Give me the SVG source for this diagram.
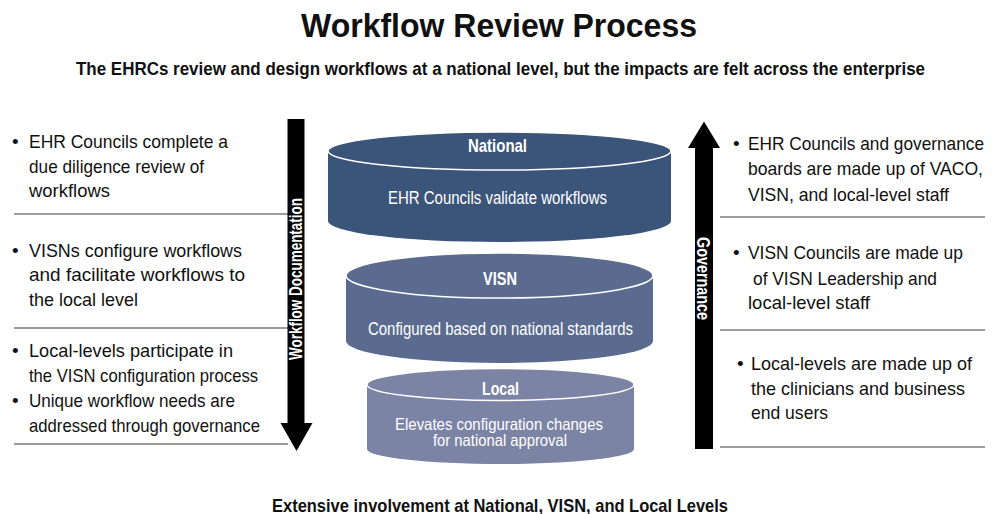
<svg xmlns="http://www.w3.org/2000/svg" width="1002" height="514" viewBox="0 0 1002 514">
<style>
.t{font-family:"Liberation Sans",Arial,sans-serif;fill:#111}
.b{font-weight:bold}
.body{font-size:19px}
.w{fill:#fff}
.rule{stroke:#3a3a3a;stroke-width:1.2;fill:none}
.rim{stroke:#fff;stroke-width:1.5}
</style>
<rect width="1002" height="514" fill="#fff"/>
<text class="t b" x="499" y="36.5" font-size="33" text-anchor="middle" textLength="396" lengthAdjust="spacingAndGlyphs">Workflow Review Process</text>
<text class="t b" x="500.5" y="75" font-size="18.5" text-anchor="middle" textLength="849" lengthAdjust="spacingAndGlyphs">The EHRCs review and design workflows at a national level, but the impacts are felt across the enterprise</text>
<text class="t b" x="500" y="512" font-size="18.5" text-anchor="middle" textLength="456" lengthAdjust="spacingAndGlyphs">Extensive involvement at National, VISN, and Local Levels</text>

<g id="left-notes">
<line class="rule" x1="14" y1="214" x2="288" y2="214"/>
<line class="rule" x1="14" y1="328" x2="288" y2="328"/>
<line class="rule" x1="14" y1="444" x2="288" y2="444"/>
<g class="t body">
<text x="12" y="148">•</text>
<text x="29" y="148" textLength="199" lengthAdjust="spacingAndGlyphs">EHR Councils complete a</text>
<text x="29" y="172.7" textLength="175" lengthAdjust="spacingAndGlyphs">due diligence review of</text>
<text x="29" y="197.3" textLength="81" lengthAdjust="spacingAndGlyphs">workflows</text>
<text x="12" y="256.5">•</text>
<text x="29" y="256.5" textLength="213" lengthAdjust="spacingAndGlyphs">VISNs configure workflows</text>
<text x="29" y="281.3" textLength="216" lengthAdjust="spacingAndGlyphs">and facilitate workflows to</text>
<text x="29" y="305.5" textLength="109" lengthAdjust="spacingAndGlyphs">the local level</text>
<text x="12" y="357">•</text>
<text x="29" y="357" textLength="204" lengthAdjust="spacingAndGlyphs">Local-levels participate in</text>
<text x="29" y="382" textLength="229" lengthAdjust="spacingAndGlyphs">the VISN configuration process</text>
<text x="12" y="407">•</text>
<text x="29" y="407" textLength="206" lengthAdjust="spacingAndGlyphs">Unique workflow needs are</text>
<text x="29" y="431.5" textLength="231" lengthAdjust="spacingAndGlyphs">addressed through governance</text>
</g>
</g>

<g id="right-notes">
<line class="rule" x1="720" y1="217" x2="985" y2="217"/>
<line class="rule" x1="720" y1="330" x2="985" y2="330"/>
<line class="rule" x1="720" y1="447" x2="985" y2="447"/>
<g class="t body">
<text x="733" y="149.5">•</text>
<text x="748" y="149.5" textLength="236" lengthAdjust="spacingAndGlyphs">EHR Councils and governance</text>
<text x="748" y="175" textLength="235" lengthAdjust="spacingAndGlyphs">boards are made up of VACO,</text>
<text x="748" y="200.5" textLength="201" lengthAdjust="spacingAndGlyphs">VISN, and local-level staff</text>
<text x="733" y="259">•</text>
<text x="748" y="259" textLength="215" lengthAdjust="spacingAndGlyphs">VISN Councils are made up</text>
<text x="753" y="284.5" textLength="184" lengthAdjust="spacingAndGlyphs">of VISN Leadership and</text>
<text x="748" y="309" textLength="122" lengthAdjust="spacingAndGlyphs">local-level staff</text>
<text x="737" y="370">•</text>
<text x="751" y="370" textLength="221" lengthAdjust="spacingAndGlyphs">Local-levels are made up of</text>
<text x="751" y="394.5" textLength="214" lengthAdjust="spacingAndGlyphs">the clinicians and business</text>
<text x="751" y="418.5" textLength="77" lengthAdjust="spacingAndGlyphs">end users</text>
</g>
</g>

<g id="connectors">
<g id="workflow-documentation-arrow">
<path d="M287.5,119 H304.5 V423 H312.5 L296.5,451 L280.5,423 H287.5 Z" fill="#000"/>
<text class="t b w" font-size="18" text-anchor="middle" transform="translate(302,279) rotate(-90)" textLength="162" lengthAdjust="spacingAndGlyphs">Workflow Documentation</text>
</g>
<g id="governance-arrow">
<path d="M695,449 V148 H688 L704,121.5 L720,148 H713 V449 Z" fill="#000"/>
<text class="t b w" font-size="18" text-anchor="middle" transform="translate(697,278.5) rotate(90)" textLength="83" lengthAdjust="spacingAndGlyphs">Governance</text>
</g>
</g>

<g id="national">
<path d="M328,151 V221 A171.5,21 0 0 0 671,221 V151 Z" fill="#3b5479"/>
<ellipse class="rim" cx="499.5" cy="151" rx="171.5" ry="19" fill="#3b5479"/>
<text class="t b w" x="497.5" y="151.5" font-size="19" text-anchor="middle" textLength="59" lengthAdjust="spacingAndGlyphs">National</text>
<text class="t w" x="497.5" y="204" font-size="17.5" text-anchor="middle" textLength="219" lengthAdjust="spacingAndGlyphs">EHR Councils validate workflows</text>
</g>

<g id="visn">
<path d="M346,275.5 V341 A153.5,22 0 0 0 653,341 V275.5 Z" fill="#5b6b90"/>
<ellipse class="rim" cx="499.5" cy="275.5" rx="153.5" ry="22.5" fill="#5b6b90"/>
<text class="t b w" x="500" y="285" font-size="18.5" text-anchor="middle" textLength="34" lengthAdjust="spacingAndGlyphs">VISN</text>
<text class="t w" x="500.5" y="335" font-size="17.5" text-anchor="middle" textLength="265" lengthAdjust="spacingAndGlyphs">Configured based on national standards</text>
</g>

<g id="local">
<path d="M367,384.5 V449 A133.5,15 0 0 0 634,449 V384.5 Z" fill="#7c84a6"/>
<ellipse class="rim" cx="500.5" cy="384.5" rx="133.5" ry="16" fill="#7c84a6"/>
<text class="t b w" x="500.5" y="395" font-size="18.5" text-anchor="middle" textLength="37" lengthAdjust="spacingAndGlyphs">Local</text>
<text class="t w" x="499" y="430" font-size="16.5" text-anchor="middle" textLength="208" lengthAdjust="spacingAndGlyphs">Elevates configuration changes</text>
<text class="t w" x="500" y="445.5" font-size="16.5" text-anchor="middle" textLength="134" lengthAdjust="spacingAndGlyphs">for national approval</text>
</g>
</svg>
